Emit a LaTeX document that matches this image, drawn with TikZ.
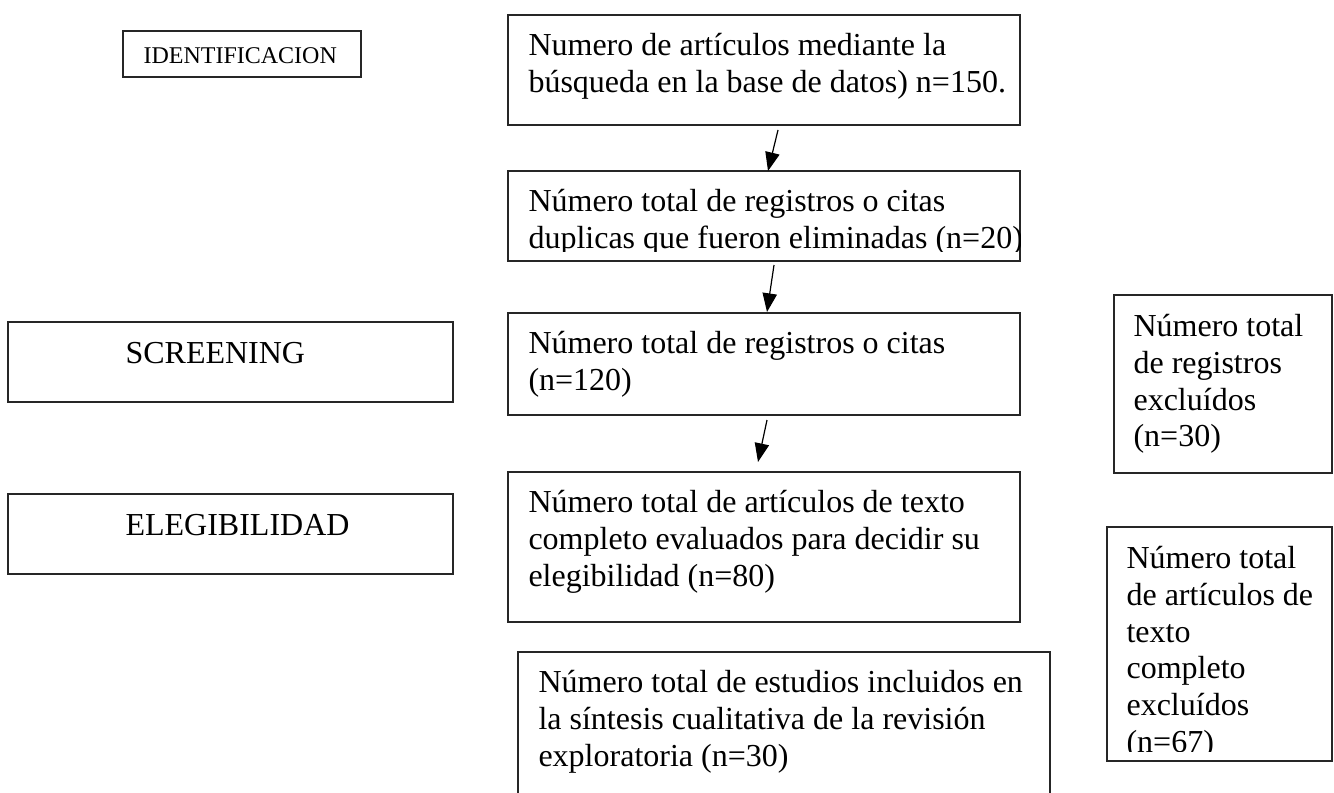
\documentclass[tikz,border=0pt]{standalone}
\usepackage{fontspec}
\setmainfont{Liberation Serif}
\usetikzlibrary{arrows.meta}
\newcommand{\myTopStrut}{\rule{0pt}{11.5pt}}
\begin{document}
\begin{tikzpicture}[x=0.375pt,y=-0.375pt,
  box/.style={draw=black!85, line width=0.55pt, anchor=north west, inner sep=0pt, outer sep=0pt},
  txt/.style={anchor=north west, inner sep=0pt, align=left, font=\fontsize{12pt}{13.8pt}\selectfont, yshift=11.5pt},
  smalltxt/.style={txt, font=\fontsize{9pt}{10.35pt}\selectfont},
  arr/.style={-{Triangle[length=7pt,width=5.4pt]}, line width=0.45pt}]
\useasboundingbox (0,0) rectangle (1334,792);

% left column
\node[box, minimum width=238*0.375pt, minimum height=46*0.375pt] (ident) at (123,31) {};
\node[smalltxt] (identt) at (143,63) {\myTopStrut IDENTIFICACION};
\node[box, minimum width=445*0.375pt, minimum height=80*0.375pt] (scr) at (8,322) {};
\node[txt] (scrt) at (125,363) {\myTopStrut SCREENING};
\node[box, minimum width=445*0.375pt, minimum height=80*0.375pt] (ele) at (8,494) {};
\node[txt] (elet) at (125,535) {\myTopStrut ELEGIBILIDAD};

% central column
\node[box, minimum width=512*0.375pt, minimum height=110*0.375pt] (b1) at (508,15) {};
\node[txt] (b1t) at (528,55) {\myTopStrut Numero de artículos mediante la\\búsqueda en la base de datos) n=150.};
\node[box, minimum width=512*0.375pt, minimum height=90*0.375pt] (b2) at (508,171) {};
\begin{scope}
\clip (508,171) rectangle (1020,251.5);
\node[txt] (b2t) at (528,211) {\myTopStrut Número total de registros o citas\\duplicas que fueron eliminadas (n=20)};
\end{scope}
\node[box, minimum width=512*0.375pt, minimum height=102*0.375pt] (b3) at (508,313) {};
\node[txt] (b3t) at (528,353) {\myTopStrut Número total de registros o citas\\(n=120)};
\node[box, minimum width=512*0.375pt, minimum height=150*0.375pt] (b4) at (508,472) {};
\node[txt] (b4t) at (528,512) {\myTopStrut Número total de artículos de texto\\completo evaluados para decidir su\\elegibilidad (n=80)};
\node[box, minimum width=532*0.375pt, minimum height=150*0.375pt] (b5) at (518,652) {};
\node[txt] (b5t) at (538,692) {\myTopStrut Número total de estudios incluidos en\\la síntesis cualitativa de la revisión\\exploratoria (n=30)};

% right column
\node[box, minimum width=218*0.375pt, minimum height=178*0.375pt] (r1) at (1114,295) {};
\node[txt] (r1t) at (1133,336) {\myTopStrut Número total\\de registros\\excluídos\\(n=30)};
\node[box, minimum width=225*0.375pt, minimum height=234*0.375pt] (r2) at (1107,527) {};
\begin{scope}
\clip (1107,527) rectangle (1332,751.5);
\node[txt] (r2t) at (1126,568) {\myTopStrut Número total\\de artículos de\\texto\\completo\\excluídos\\(n=67)};
\end{scope}

% arrows
\coordinate (a1s) at (778,130);
\coordinate (a1e) at (768,171);
\coordinate (a2s) at (774,265);
\coordinate (a2e) at (767,312);
\coordinate (a3s) at (767,420);
\coordinate (a3e) at (758,462);
\draw[arr] (a1s) -- (a1e);
\draw[arr] (a2s) -- (a2e);
\draw[arr] (a3s) -- (a3e);
\end{tikzpicture}
\end{document}
